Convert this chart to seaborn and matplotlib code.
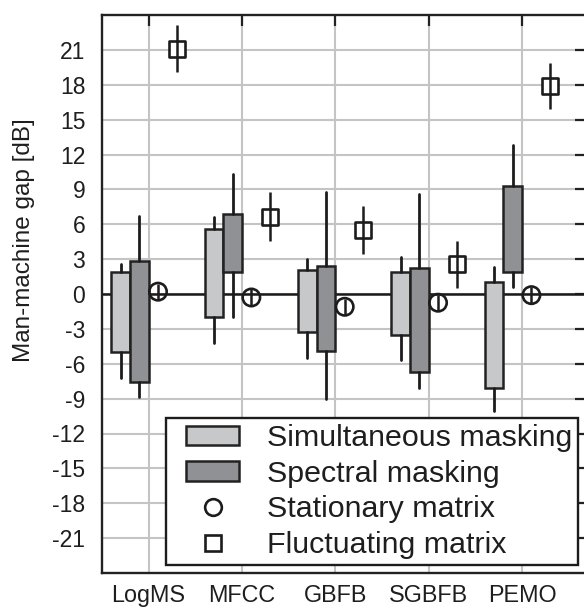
import matplotlib
matplotlib.use("Agg")
import matplotlib.pyplot as plt
import seaborn as sns
import pandas as pd
from matplotlib.legend_handler import HandlerPatch, HandlerLine2D
from matplotlib.patches import Patch
from matplotlib.lines import Line2D

# ---------------- data ----------------
categories = ["LogMS", "MFCC", "GBFB", "SGBFB", "PEMO"]

sim_low = [-7.2, -4.2, -5.5, -5.7, -10.1]
sim_q1 = [-5.0, -2.0, -3.25, -3.5, -8.05]
sim_q3 = [1.9, 5.6, 2.1, 1.9, 1.0]
sim_high = [2.6, 6.6, 3.05, 3.2, 2.3]

spec_low = [-8.85, -2.0, -9.0, -8.05, 0.6]
spec_q1 = [-7.55, 1.85, -4.9, -6.75, 1.85]
spec_q3 = [2.8, 6.9, 2.4, 2.2, 9.3]
spec_high = [6.7, 10.35, 8.8, 8.6, 12.8]

stat_mean = [0.2, -0.3, -1.1, -0.75, -0.1]
stat_err = [0.7, 0.7, 0.7, 0.7, 0.7]

fluc_mean = [21.1, 6.65, 5.5, 2.55, 17.9]
fluc_err = [2.0, 2.1, 2.05, 2.0, 2.0]

yticks = [-21, -18, -15, -12, -9, -6, -3, 0, 3, 6, 9, 12, 15, 18, 21]
legend_labels = ["Simultaneous masking", "Spectral masking",
                 "Stationary matrix", "Fluctuating matrix"]

# ---------------- style ----------------
sns.set_theme(style="white")
plt.rcParams["font.family"] = ["Liberation Sans", "DejaVu Sans"]
TXT = "#1e1e1e"
EDGE = "#222222"
LIGHT = "#c7c8ca"
DARK = "#909194"
GRID = "#c4c4c4"

fig = plt.figure(figsize=(5.84, 6.10), dpi=100)
ax = fig.add_axes([102 / 584, 1 - 573 / 610, 484 / 584, 558 / 610])

pos = list(range(len(categories)))
off = [-0.3, -0.1, 0.1, 0.3]
w = 0.2

def stats(lo, q1, q3, hi):
    return [dict(whislo=a, q1=b, med=b, q3=c, whishi=d, fliers=[])
            for a, b, c, d in zip(lo, q1, q3, hi)]

for (lo, q1, q3, hi), o, col in [((sim_low, sim_q1, sim_q3, sim_high), off[0], LIGHT),
                                  ((spec_low, spec_q1, spec_q3, spec_high), off[1], DARK)]:
    ax.bxp(stats(lo, q1, q3, hi), positions=[p + o for p in pos], widths=w,
           patch_artist=True, showcaps=False, showfliers=False,
           boxprops=dict(facecolor=col, edgecolor=EDGE, linewidth=1.8),
           whiskerprops=dict(color="#1c1c1c", linewidth=2.0),
           medianprops=dict(visible=False), manage_ticks=False, zorder=3)

# stationary matrix (circles)
df_stat = pd.DataFrame({"x": [p + off[2] for p in pos], "y": stat_mean})
ax.errorbar(df_stat["x"], df_stat["y"], yerr=stat_err, fmt="none",
            ecolor="#1c1c1c", elinewidth=1.8, capsize=0, zorder=4)
sns.scatterplot(data=df_stat, x="x", y="y", marker="o", s=12.5 ** 2,
                facecolors="none", edgecolor="#1c1c1c", linewidth=1.9,
                ax=ax, zorder=5, legend=False)

# fluctuating matrix (squares)
df_fluc = pd.DataFrame({"x": [p + off[3] for p in pos], "y": fluc_mean})
sns.scatterplot(data=df_fluc, x="x", y="y", marker="s", s=12 ** 2,
                facecolors="white", edgecolor="#1c1c1c", linewidth=1.9,
                ax=ax, zorder=4, legend=False)
ax.errorbar(df_fluc["x"], df_fluc["y"], yerr=fluc_err, fmt="none",
            ecolor="#1c1c1c", elinewidth=1.8, capsize=0, zorder=5)

# zero line
ax.axhline(0, color="#1a1a1a", linewidth=1.8, zorder=2)

# axes
ax.set_xlim(-0.5, 4.685)
ax.set_ylim(-24, 24)
ax.set_xticks(pos)
ax.set_xticklabels(categories)
ax.set_yticks(yticks)
ax.set_yticklabels([str(v) for v in yticks])
ax.set_xlabel("")
ax.set_ylabel("Man-machine gap [dB]", fontsize=17.5, color=TXT)
ax.yaxis.set_label_coords((35 - 102) / 484, (573 - 240) / 558)
ax.grid(True, color=GRID, linewidth=1.5, zorder=0)
ax.set_axisbelow(True)
for s in ax.spines.values():
    s.set_color(EDGE)
    s.set_linewidth(1.7)
    s.set_visible(True)
ax.tick_params(axis="both", direction="in", length=8, width=1.6, color=EDGE,
               top=True, right=True, labelcolor=TXT)
ax.tick_params(axis="y", labelsize=16.5, pad=12)
ax.tick_params(axis="x", labelsize=16.8, pad=7.6)

# legend
handles = [Patch(facecolor=LIGHT, edgecolor=EDGE, linewidth=1.8),
           Patch(facecolor=DARK, edgecolor=EDGE, linewidth=1.8),
           Line2D([], [], linestyle="none", marker="o", markersize=12,
                  markerfacecolor="none", markeredgecolor="#1c1c1c", markeredgewidth=1.9),
           Line2D([], [], linestyle="none", marker="s", markersize=12,
                  markerfacecolor="white", markeredgecolor="#1c1c1c", markeredgewidth=1.9)]
hmap = {Patch: HandlerPatch(xpad=0.46), Line2D: HandlerLine2D(xpad=0.46)}
leg = ax.legend(handles, legend_labels, handler_map=hmap,
                loc="lower right", bbox_to_anchor=((578 - 102) / 484, (573 - 565) / 558),
                borderaxespad=0, fontsize=21.9, frameon=True, fancybox=False,
                framealpha=1, edgecolor="#1c1c1c", borderpad=0.2,
                handlelength=2.2, handleheight=0.6, handletextpad=0.9,
                labelspacing=0.25)
leg.get_frame().set_linewidth(1.7)
for t in leg.get_texts():
    t.set_color(TXT)
leg.set_zorder(10)

fig.savefig("out.png", dpi=100)
